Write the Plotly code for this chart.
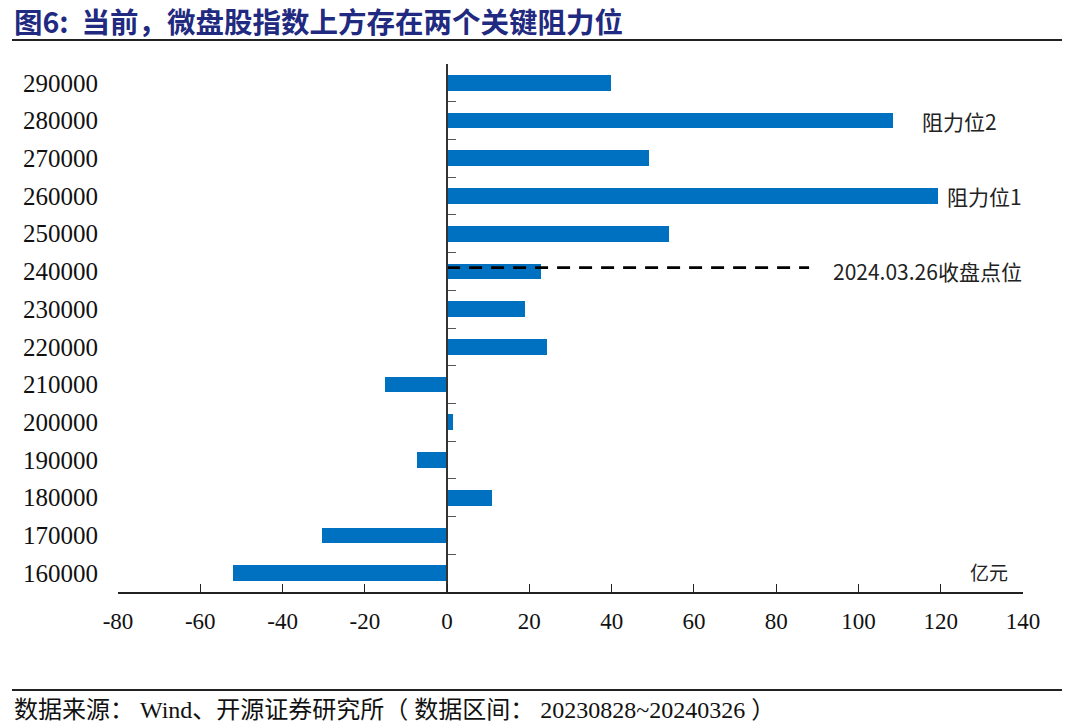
import plotly.graph_objects as go

# ---- data ----
levels = [160000, 170000, 180000, 190000, 200000, 210000, 220000,
          230000, 240000, 250000, 260000, 270000, 280000, 290000]
amounts = [-52.0, -30.5, 11.0, -7.4, 1.4, -15.1, 24.3,
           19.0, 22.9, 54.0, 119.3, 49.2, 108.3, 39.9]
level_labels = [str(v) for v in levels]
x_ticks = [-80, -60, -40, -20, 0, 20, 40, 60, 80, 100, 120, 140]
close_level = 241000
close_line_x = [0, 88]
close_label = "2024.03.26收盘点位"
resist1_label = "阻力位1"
resist2_label = "阻力位2"
unit_label = "亿元"
title_text = "图6:  当前，微盘股指数上方存在两个关键阻力位"
source_text = "数据来源： Wind、开源证券研究所（ 数据区间： 20230828~20240326 ）"

W, H = 1080, 727
L, R, T, B = 118, 57, 64, 135
pw, ph = W - L - R, H - T - B


def px(xp):
    return (xp - L) / pw


def py(yp):
    return (H - B - yp) / ph


serif = "Liberation Serif, Noto Sans CJK SC"
sans = "Noto Sans CJK SC, Noto Sans"

fig = go.Figure()
fig.add_trace(go.Bar(
    x=amounts, y=levels, orientation="h",
    marker=dict(color="#0070C0", line=dict(width=0)),
    width=4200, showlegend=False, hoverinfo="x+y",
))
fig.add_trace(go.Scatter(
    x=close_line_x, y=[close_level, close_level], mode="lines",
    line=dict(color="black", width=2.8, dash="13px,9px"),
    showlegend=False, hoverinfo="skip",
))
# invisible trace to carry the boundary-tick axis at x=0
fig.add_trace(go.Scatter(
    x=[0], y=[levels[0]], yaxis="y2", mode="markers",
    marker=dict(opacity=0), showlegend=False, hoverinfo="skip",
))

yr = [155000, 295000]
fig.update_layout(
    width=W, height=H,
    margin=dict(l=L, r=R, t=T, b=B),
    plot_bgcolor="white", paper_bgcolor="white",
    xaxis=dict(
        range=[-80, 140], tickvals=x_ticks, ticktext=[str(v) for v in x_ticks],
        showgrid=False, zeroline=False, showline=True, linecolor="#222",
        linewidth=1.5, ticks="inside", ticklen=8, tickcolor="#222", tickwidth=1.3,
        tickfont=dict(family=serif, size=23, color="#111"),
        ticklabelstandoff=8,
    ),
    yaxis=dict(
        range=yr, tickvals=levels, ticktext=level_labels,
        showgrid=False, zeroline=False, showline=False, ticks="",
        tickfont=dict(family=serif, size=25, color="#111"),
        ticklabelstandoff=19,
    ),
    yaxis2=dict(
        range=yr, overlaying="y", anchor="free", position=80 / 220, side="left",
        tickvals=[155000 + 10000 * i for i in range(15)],
        showticklabels=False, showgrid=False, zeroline=False,
        showline=True, linecolor="#333", linewidth=1.5,
        ticks="inside", ticklen=8, tickcolor="#555", tickwidth=1.2,
    ),
    bargap=0,
)

anns = [
    dict(x=115, y=280000, text=resist2_label, xanchor="left",
         font=dict(family=sans, size=21, color="#222")),
    dict(x=121.0, y=260000, text=resist1_label, xanchor="left",
         font=dict(family=sans, size=21, color="#222")),
    dict(x=93.3, y=240000, text=close_label, xanchor="left",
         font=dict(family=sans, size=21, color="#222")),
    dict(x=131.8, y=160500, text=unit_label, xanchor="center",
         font=dict(family=sans, size=19, color="#222")),
]
for a in anns:
    a.update(xref="x", yref="y", showarrow=False, yanchor="middle")
    fig.add_annotation(**a)

fig.add_annotation(xref="paper", yref="paper", x=px(12), y=py(21), xanchor="left",
                   yanchor="middle", showarrow=False, text="<b>" + title_text + "</b>",
                   font=dict(family=sans, size=28.5, color="#1F2A80"))
fig.add_annotation(xref="paper", yref="paper", x=px(12), y=py(710), xanchor="left",
                   yanchor="middle", showarrow=False, text=source_text,
                   font=dict(family=serif, size=24, color="#111"))
fig.add_shape(type="line", xref="paper", yref="paper", x0=px(12), x1=px(1062),
              y0=py(40), y1=py(40), line=dict(color="#222", width=2))
fig.add_shape(type="line", xref="paper", yref="paper", x0=px(12), x1=px(1062),
              y0=py(690), y1=py(690), line=dict(color="#222", width=2))

fig.write_html("out.html", config={"displayModeBar": False},
               post_script="document.body.style.margin='0';document.body.style.overflow='hidden';")
